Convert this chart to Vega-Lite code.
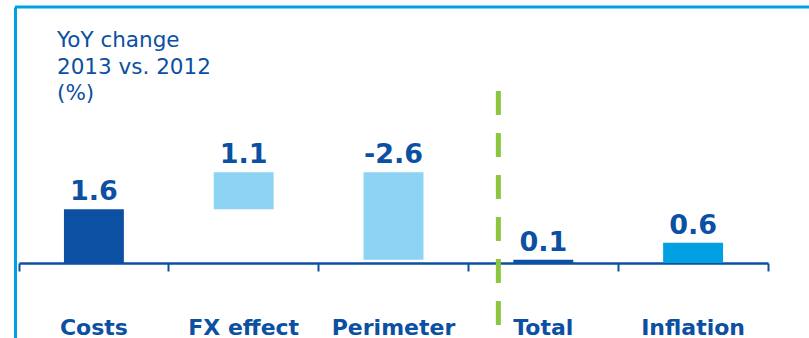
{
  "$schema": "https://vega.github.io/schema/vega-lite/v6.json",
  "width": 794,
  "height": 331,
  "autosize": {"type": "none"},
  "padding": {"left": 15, "top": 7, "right": 0, "bottom": 0},
  "background": "white",
  "config": {"view": {"stroke": null}, "font": "DejaVu Sans"},
  "title": {
    "text": ["YoY change", "2013 vs. 2012", "(%)"],
    "anchor": "start",
    "frame": "group",
    "orient": "top",
    "offset": 0,
    "dx": 42,
    "dy": 116,
    "baseline": "alphabetic",
    "lineHeight": 26.3,
    "font": "DejaVu Sans",
    "fontSize": 21.5,
    "fontWeight": "normal",
    "color": "#0b50a2"
  },
  "data": {
    "values": [
      {"cat": "Costs", "lo": 0, "hi": 1.6, "label": "1.6", "kind": "dark"},
      {"cat": "FX effect", "lo": 1.6, "hi": 2.7, "label": "1.1", "kind": "light"},
      {"cat": "Perimeter", "lo": 0.1, "hi": 2.7, "label": "-2.6", "kind": "light"},
      {"cat": "Total", "lo": 0, "hi": 0.1, "label": "0.1", "kind": "dark"},
      {"cat": "Inflation", "lo": 0, "hi": 0.6, "label": "0.6", "kind": "mid"}
    ]
  },
  "layer": [
    {
      "mark": {"type": "bar", "width": {"band": 0.4}},
      "encoding": {
        "x": {
          "field": "cat",
          "type": "nominal",
          "sort": null,
          "scale": {"range": [4, 753], "paddingInner": 0, "paddingOuter": 0},
          "axis": {
            "orient": "bottom",
            "offset": -75,
            "domainColor": "#0b50a2",
            "domainWidth": 2.5,
            "tickColor": "#0b50a2",
            "tickSize": 8,
            "tickWidth": 2,
            "bandPosition": 1,
            "tickExtra": true,
            "labelFont": "DejaVu Sans",
            "labelFontSize": 22,
            "labelFontWeight": "bold",
            "labelColor": "#0b50a2",
            "labelBaseline": "alphabetic",
            "labelPadding": 63,
            "labelAngle": 0,
            "title": null,
            "grid": false
          }
        },
        "y": {
          "field": "hi",
          "type": "quantitative",
          "scale": {"domain": [-2.232, 7.619], "nice": false, "zero": false},
          "axis": {"orient": "left", "domainColor": "#00a0e3", "domainWidth": 3, "ticks": false, "labels": false, "grid": false, "title": null}
        },
        "y2": {"field": "lo"},
        "color": {
          "field": "kind",
          "type": "nominal",
          "scale": {"domain": ["dark", "light", "mid"], "range": ["#0b50a2", "#8dd3f3", "#00a0e3"]},
          "legend": null
        }
      }
    },
    {
      "mark": {"type": "text", "align": "center", "baseline": "alphabetic", "dy": -9, "font": "DejaVu Sans", "fontSize": 27, "fontWeight": "bold", "color": "#0b50a2"},
      "encoding": {
        "x": {"field": "cat", "type": "nominal", "sort": null},
        "y": {"field": "hi", "type": "quantitative"},
        "text": {"field": "label"}
      }
    },
    {
      "transform": [{"filter": "datum.cat === 'Total'"}],
      "mark": {"type": "rule", "color": "#8cc63e", "strokeWidth": 5, "strokeDash": [24, 18]},
      "encoding": {
        "x": {"field": "cat", "type": "nominal", "sort": null, "bandPosition": 0.2},
        "y": {"datum": 5.12},
        "y2": {"datum": -2.232}
      }
    },
    {
      "transform": [{"filter": "datum.cat === 'Costs'"}],
      "mark": {"type": "rule", "color": "#00a0e3", "strokeWidth": 3},
      "encoding": {
        "y": {"datum": 7.619}
      }
    }
  ]
}
